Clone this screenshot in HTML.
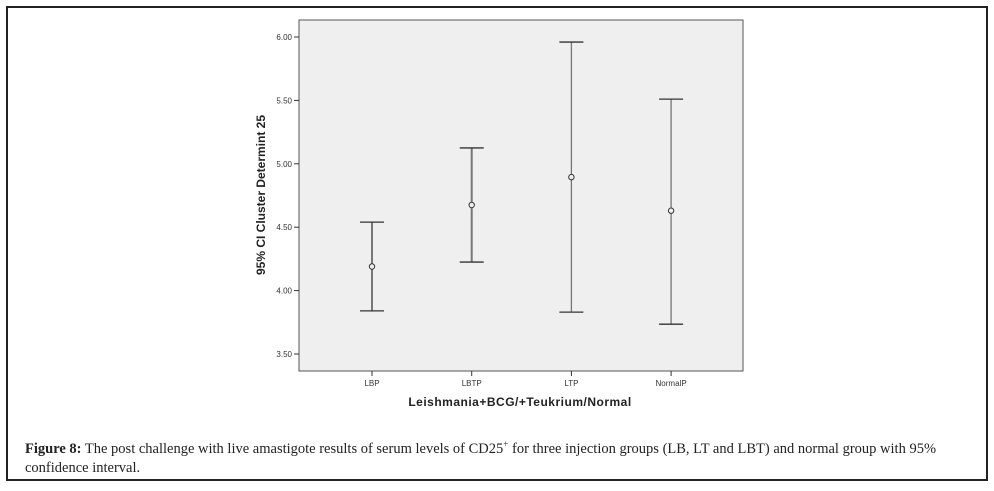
<!DOCTYPE html>
<html><head><meta charset="utf-8"><style>
body{margin:0;background:#fff;width:994px;height:491px;overflow:hidden;position:relative}
#frame{position:absolute;left:6px;top:6px;width:982px;height:475px;border:2px solid #222;box-sizing:border-box}
#cap{position:absolute;left:25px;top:435px;width:950px;font-family:"Liberation Serif",serif;font-size:14.5px;line-height:19px;color:#222}
svg{position:absolute;left:0;top:0}
</style></head><body>
<div id="frame"></div>
<svg id="chart" width="994" height="491">
<rect x="299" y="20" width="444" height="351" fill="#efefef" stroke="#555" stroke-width="1"/>
<g id="yaxis"></g>
<g id="xaxis"></g>
<g id="bars"></g>
<text x="265" y="195" transform="rotate(-90 265 195)" text-anchor="middle" font-family="Liberation Sans,sans-serif" font-size="12" font-weight="bold" fill="#222">95% CI Cluster Determint 25</text>
<text x="520" y="406" text-anchor="middle" font-family="Liberation Sans,sans-serif" font-size="12" font-weight="bold" fill="#222" letter-spacing="0.5">Leishmania+BCG/+Teukrium/Normal</text>
</svg>
<div id="cap"><b>Figure 8:</b> The post challenge with live amastigote results of serum levels of CD25<sup style="font-size:9px">+</sup> for three injection groups (LB, LT and LBT) and normal group with 95% confidence interval.</div>
<script>
const categories=["LBP","LBTP","LTP","NormalP"];
const means=[4.19,4.675,4.895,4.63];
const lowers=[3.84,4.225,3.83,3.735];
const uppers=[4.54,5.125,5.96,5.51];
const yTicks=[3.5,4.0,4.5,5.0,5.5,6.0];
const yTickLabels=["3.50","4.00","4.50","5.00","5.50","6.00"];
const NS="http://www.w3.org/2000/svg";
function y(v){return 354-(v-3.5)*126.8;}
function x(i){return 372+i*99.7;}
function mk(t,a,p){const e=document.createElementNS(NS,t);for(const k in a)e.setAttribute(k,a[k]);p.appendChild(e);return e;}
const ya=document.getElementById('yaxis'),xa=document.getElementById('xaxis'),bg=document.getElementById('bars');
yTicks.forEach((v,i)=>{
 const l=mk('line',{x1:294,x2:299,y1:y(v),y2:y(v),stroke:'#333'},ya);
 
 
 const t=mk('text',{x:292,y:y(v)+3,'text-anchor':'end','font-family':'Liberation Sans,sans-serif','font-size':'8',fill:'#333'},ya);
 t.textContent=yTickLabels[i];
 
 
});
categories.forEach((c,i)=>{
 const X=x(i);
 const l=mk('line',{x1:X,x2:X,y1:371,y2:376,stroke:'#333'},xa);
 
 
 const t=mk('text',{x:X,y:386,'text-anchor':'middle','font-family':'Liberation Sans,sans-serif','font-size':'8',fill:'#333'},xa);
 t.textContent=c;
 
 
 const g=mk('g',{},bg);
 
 
 const w=i<2?2:1.3;
 mk('line',{x1:X,x2:X,y1:y(uppers[i]),y2:y(lowers[i]),stroke:'#777','stroke-width':w},g);
 mk('line',{x1:X-12,x2:X+12,y1:y(uppers[i]),y2:y(uppers[i]),stroke:'#333','stroke-width':1.3},g);
 mk('line',{x1:X-12,x2:X+12,y1:y(lowers[i]),y2:y(lowers[i]),stroke:'#333','stroke-width':1.3},g);
 const m=mk('circle',{cx:X,cy:y(means[i]),r:2.7,fill:'#efefef',stroke:'#333','stroke-width':1},g);
 
 
});
</script>
</body></html>
